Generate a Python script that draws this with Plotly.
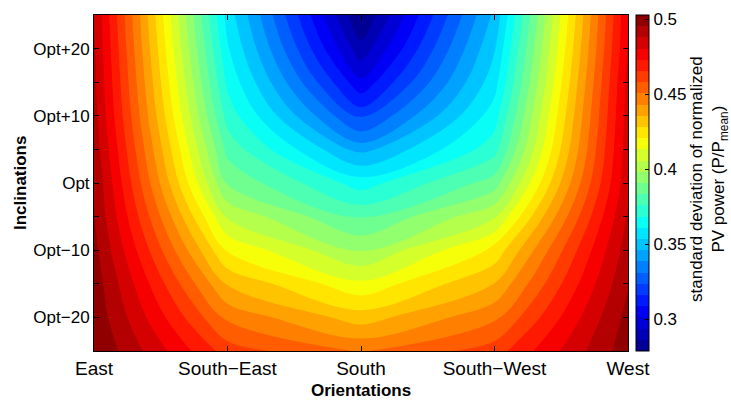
import plotly.graph_objects as go

# Orientation grid (degrees from South; East = -90, West = +90)
orientations = [-90, -45, 0, 45, 90]
orient_labels = ["East", "South\u2212East", "South", "South\u2212West", "West"]

# Inclination offsets relative to optimum (degrees)
inclinations = [-25, -20, -15, -10, -5, 0, 5, 10, 15, 20, 25]
incl_tickvals = [-20, -10, 0, 10, 20]
incl_ticktext = ["Opt\u221220", "Opt\u221210", "Opt", "Opt+10", "Opt+20"]

# Std. deviation of normalized PV power, one list per orientation,
# ordered from Opt-25 to Opt+25
sd_east = [0.503, 0.501, 0.500, 0.498, 0.496, 0.495, 0.493, 0.491, 0.490, 0.489, 0.488]
sd_southeast = [0.462, 0.449, 0.435, 0.420, 0.405, 0.390, 0.381, 0.373, 0.367, 0.362, 0.358]
sd_south = [0.450, 0.432, 0.415, 0.398, 0.382, 0.365, 0.343, 0.321, 0.303, 0.289, 0.279]
sd_southwest = [0.462, 0.449, 0.436, 0.423, 0.405, 0.387, 0.373, 0.365, 0.358, 0.353, 0.348]
sd_west = [0.500, 0.498, 0.495, 0.492, 0.489, 0.486, 0.485, 0.484, 0.483, 0.481, 0.480]

cbar_ticks = [0.3, 0.35, 0.4, 0.45, 0.5]

columns = [sd_east, sd_southeast, sd_south, sd_southwest, sd_west]
z = [[col[i] for col in columns] for i in range(len(inclinations))]

zmin = min(min(c) for c in columns)
zmax = max(max(c) for c in columns)
nlev = 30
step = (zmax - zmin) / nlev

jet = [
    [0.0, "rgb(0,0,132)"],
    [0.125, "rgb(0,0,255)"],
    [0.375, "rgb(0,255,255)"],
    [0.625, "rgb(255,255,0)"],
    [0.875, "rgb(255,0,0)"],
    [1.0, "rgb(128,0,0)"],
]

FONT = "Liberation Sans, Arial, Helvetica, sans-serif"

fig = go.Figure(
    go.Contour(
        x=orientations,
        y=inclinations,
        z=z,
        colorscale=jet,
        zmin=zmin,
        zmax=zmax,
        contours=dict(start=zmin, end=zmax, size=step, coloring="fill"),
        line=dict(width=0),
        colorbar=dict(
            x=(636 - 94) / 534,
            xanchor="left",
            xpad=0,
            y=0.5,
            yanchor="middle",
            len=1.0,
            lenmode="fraction",
            ypad=0,
            thickness=13,
            outlinewidth=1,
            outlinecolor="black",
            tickvals=cbar_ticks,
            ticktext=["0.3", "0.35", "0.4", "0.45", "0.5"],
            ticks="inside",
            ticklen=4,
            tickcolor="black",
            tickfont=dict(family=FONT, size=17, color="black"),
        ),
    )
)

fig.update_xaxes(
    range=[-90, 90],
    tickvals=orientations,
    ticktext=orient_labels,
    ticks="inside",
    ticklen=5,
    tickcolor="black",
    showline=True,
    linecolor="black",
    linewidth=1,
    mirror="ticks",
    showgrid=False,
    zeroline=False,
    automargin=False,
    tickfont=dict(family=FONT, size=19, color="black"),
)
fig.update_yaxes(
    range=[-25, 25],
    tickvals=incl_tickvals,
    ticktext=incl_ticktext,
    ticks="inside",
    ticklen=5,
    tickcolor="black",
    minor=dict(tickvals=[-15, -5, 5, 15], ticks="inside", ticklen=5, tickcolor="black"),
    showline=True,
    linecolor="black",
    linewidth=1,
    mirror="ticks",
    showgrid=False,
    zeroline=False,
    automargin=False,
    tickfont=dict(family=FONT, size=17, color="black"),
)

# axis titles
fig.add_annotation(
    xref="paper", yref="paper",
    x=(361 - 94) / 534, y=(351 - 390) / 336,
    xanchor="center", yanchor="middle",
    text="<b>Orientations</b>", showarrow=False,
    font=dict(family=FONT, size=17, color="black"),
)
fig.add_annotation(
    xref="paper", yref="paper",
    x=(20 - 94) / 534, y=(351 - 183) / 336,
    xanchor="center", yanchor="middle",
    text="<b>Inclinations</b>", showarrow=False, textangle=-90,
    font=dict(family=FONT, size=17, color="black"),
)

fig.add_annotation(
    xref="paper", yref="paper",
    x=(709 - 94) / 534, y=(351 - 179) / 336,
    xanchor="center", yanchor="middle",
    text="standard deviation of normalized<br>PV power (P/P<sub>mean</sub>)",
    textangle=-90,
    showarrow=False,
    font=dict(family=FONT, size=17, color="black"),
    align="center",
)

fig.update_layout(
    width=731,
    height=401,
    margin=dict(l=94, r=103, t=15, b=50, autoexpand=False),
    paper_bgcolor="white",
    plot_bgcolor="white",
    font=dict(family=FONT, size=17, color="black"),
)

fig.write_html("out.html")
